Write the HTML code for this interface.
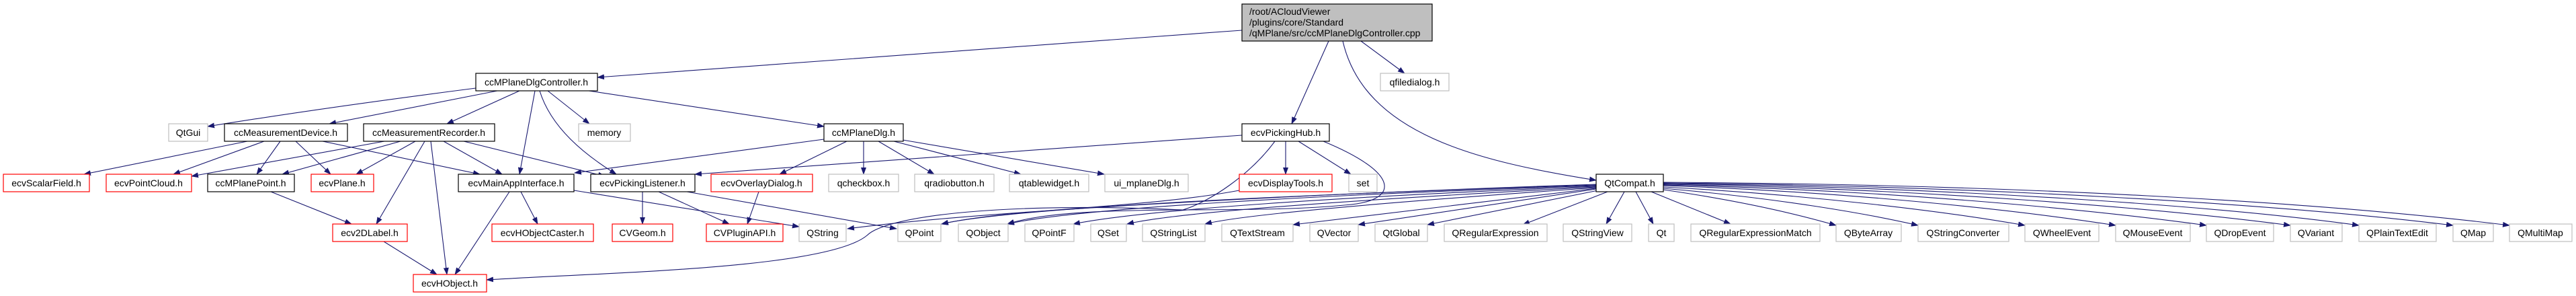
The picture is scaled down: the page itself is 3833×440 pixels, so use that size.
<!DOCTYPE html>
<html><head><meta charset="utf-8"><style>
html,body{margin:0;padding:0;background:#fff;}
svg{display:block}
text{font-family:"Liberation Sans",sans-serif;font-size:14px;fill:#000;text-anchor:middle}
.n{fill:#fff;stroke:#000;stroke-width:1.2}
.r{fill:#fff;stroke:#ff0000;stroke-width:1.2}
.g{fill:#fff;stroke:#bfbfbf;stroke-width:1.2}
.e{fill:none;stroke:#191970;stroke-width:1.1}
</style></head><body>
<svg width="3833" height="440" viewBox="0 0 3833 440" xmlns="http://www.w3.org/2000/svg">
<defs><marker id="a" markerUnits="userSpaceOnUse" markerWidth="11" markerHeight="8" refX="10" refY="4" orient="auto"><path d="M0,0 L11,4 L0,8 z" fill="#191970"/></marker></defs>
<g marker-end="url(#a)">
<!-- top cpp -->
<path class="e" d="M1848,45 L889,115"/>
<path class="e" d="M1977,61 L1922,184"/>
<path class="e" d="M2025,61 L2090,109"/>
<path class="e" d="M1998,61 C2030,200 2200,240 2375,268"/>
<!-- controller -->
<path class="e" d="M708,131 C560,150 420,170 309,188"/>
<path class="e" d="M740,135 L490,184"/>
<path class="e" d="M773,135 L665,184"/>
<path class="e" d="M796,135 L773,259"/>
<path class="e" d="M803,135 C820,190 870,230 917,259"/>
<path class="e" d="M815,135 L877,184"/>
<path class="e" d="M876,135 L1226,188"/>
<!-- measurement device -->
<path class="e" d="M368,210 L125,259"/>
<path class="e" d="M393,210 L258,259"/>
<path class="e" d="M417,210 L382,259"/>
<path class="e" d="M440,210 L492,259"/>
<path class="e" d="M480,210 L714,259"/>
<!-- recorder -->
<path class="e" d="M572,210 L285,262"/>
<path class="e" d="M596,210 L420,259"/>
<path class="e" d="M618,210 L530,259"/>
<path class="e" d="M632,210 L560,333"/>
<path class="e" d="M641,210 L665,408"/>
<path class="e" d="M660,210 L747,259"/>
<path class="e" d="M690,210 L900,262"/>
<path class="e" d="M403,285 L523,333"/>
<path class="e" d="M571,359 L650,408"/>
<!-- main app interface -->
<path class="e" d="M758,285 L677,408"/>
<path class="e" d="M775,285 L800,333"/>
<path class="e" d="M854,283 L1189,337"/>
<!-- picking listener -->
<path class="e" d="M956,285 L956,333"/>
<path class="e" d="M980,285 L1085,333"/>
<path class="e" d="M1022,285 L1334,340"/>
<path class="e" d="M1129,285 L1112,333"/>
<!-- ccMPlaneDlg -->
<path class="e" d="M1226,207 L855,257"/>
<path class="e" d="M1260,210 L1160,259"/>
<path class="e" d="M1285,210 L1285,259"/>
<path class="e" d="M1307,210 L1390,259"/>
<path class="e" d="M1330,210 L1519,259"/>
<path class="e" d="M1343,208 L1643,259"/>
<!-- picking hub -->
<path class="e" d="M1848,201 L1034,259"/>
<path class="e" d="M1913,210 L1913,259"/>
<path class="e" d="M1932,210 L2010,259"/>
<path class="e" d="M1897,210 C1860,260 1800,300 1760,312 C1500,300 1320,320 1290,350 C1230,400 900,405 724,416"/>
<path class="e" d="M1969,210 C2090,260 2080,300 2000,305 C1850,320 1600,300 1499,333"/>
<path class="e" d="M1844,283 C1700,310 1500,310 1401,333"/>
<!-- QtCompat left -->
<path class="e" d="M2375,274 C1900,290 1450,315 1261,340"/>
<path class="e" d="M2375,275 C1900,290 1500,310 1401,333"/>
<path class="e" d="M2375,276 C1950,290 1600,310 1499,333"/>
<path class="e" d="M2375,277 C2000,292 1700,312 1597,333"/>
<path class="e" d="M2375,278 C2050,295 1750,315 1677,333"/>
<path class="e" d="M2375,279 C2100,298 1850,318 1793,333"/>
<path class="e" d="M2375,280 L1924,334"/>
<path class="e" d="M2375,281 L2021,334"/>
<path class="e" d="M2378,283 L2124,334"/>
<path class="e" d="M2392,285 L2266,334"/>
<path class="e" d="M2417,285 L2390,333"/>
<path class="e" d="M2434,285 L2460,333"/>
<path class="e" d="M2457,285 L2575,333"/>
<!-- QtCompat right -->
<path class="e" d="M2475,282 C2600,300 2680,320 2732,335"/>
<path class="e" d="M2475,280 C2650,295 2780,318 2854,335"/>
<path class="e" d="M2475,278 C2700,290 2900,315 3013,335"/>
<path class="e" d="M2475,276 C2750,285 3000,312 3148,335"/>
<path class="e" d="M2475,275 C2800,282 3100,310 3283,335"/>
<path class="e" d="M2475,274 C2850,280 3200,308 3408,335"/>
<path class="e" d="M2475,273 C2900,278 3300,306 3510,335"/>
<path class="e" d="M2475,272 C2950,276 3400,304 3650,335"/>
<path class="e" d="M2475,271 C3000,274 3450,300 3734,335"/>
</g>
<!-- nodes -->
<rect x="1848" y="6" width="283" height="55" fill="#bfbfbf" stroke="#000" stroke-width="1.2"/>
<text x="1859" y="22" style="text-anchor:start">/root/ACloudViewer</text>
<text x="1859" y="38" style="text-anchor:start">/plugins/core/Standard</text>
<text x="1859" y="54" style="text-anchor:start">/qMPlane/src/ccMPlaneDlgController.cpp</text>

<rect class="n" x="708" y="109" width="181" height="26"/><text x="798" y="127">ccMPlaneDlgController.h</text>
<rect class="g" x="2054" y="109" width="102" height="26"/><text x="2105" y="127">qfiledialog.h</text>

<rect class="g" x="251" y="184" width="58" height="26"/><text x="280" y="202">QtGui</text>
<rect class="n" x="334" y="184" width="183" height="26"/><text x="425" y="202">ccMeasurementDevice.h</text>
<rect class="n" x="541" y="184" width="195" height="26"/><text x="638" y="202">ccMeasurementRecorder.h</text>
<rect class="g" x="861" y="184" width="77" height="26"/><text x="899" y="202">memory</text>
<rect class="n" x="1226" y="184" width="118" height="26"/><text x="1285" y="202">ccMPlaneDlg.h</text>
<rect class="n" x="1848" y="184" width="130" height="26"/><text x="1913" y="202">ecvPickingHub.h</text>

<rect class="r" x="5" y="259" width="128" height="26"/><text x="69" y="277">ecvScalarField.h</text>
<rect class="r" x="158" y="259" width="127" height="26"/><text x="221" y="277">ecvPointCloud.h</text>
<rect class="n" x="309" y="259" width="129" height="26"/><text x="373" y="277">ccMPlanePoint.h</text>
<rect class="r" x="463" y="259" width="93" height="26"/><text x="509" y="277">ecvPlane.h</text>
<rect class="n" x="682" y="259" width="172" height="26"/><text x="768" y="277">ecvMainAppInterface.h</text>
<rect class="n" x="879" y="259" width="155" height="26"/><text x="956" y="277">ecvPickingListener.h</text>
<rect class="r" x="1058" y="259" width="151" height="26"/><text x="1133" y="277">ecvOverlayDialog.h</text>
<rect class="g" x="1233" y="259" width="104" height="26"/><text x="1285" y="277">qcheckbox.h</text>
<rect class="g" x="1361" y="259" width="118" height="26"/><text x="1420" y="277">qradiobutton.h</text>
<rect class="g" x="1502" y="259" width="118" height="26"/><text x="1561" y="277">qtablewidget.h</text>
<rect class="g" x="1644" y="259" width="124" height="26"/><text x="1706" y="277">ui_mplaneDlg.h</text>
<rect class="r" x="1844" y="259" width="138" height="26"/><text x="1913" y="277">ecvDisplayTools.h</text>
<rect class="g" x="2007" y="259" width="42" height="26"/><text x="2028" y="277">set</text>
<rect class="n" x="2375" y="259" width="100" height="26"/><text x="2425" y="277">QtCompat.h</text>

<rect class="r" x="495" y="333" width="111" height="26"/><text x="550" y="351">ecv2DLabel.h</text>
<rect class="r" x="732" y="333" width="151" height="26"/><text x="807" y="351">ecvHObjectCaster.h</text>
<rect class="r" x="911" y="333" width="90" height="26"/><text x="956" y="351">CVGeom.h</text>
<rect class="r" x="1051" y="333" width="114" height="26"/><text x="1108" y="351">CVPluginAPI.h</text>
<rect class="g" x="1189" y="333" width="70" height="26"/><text x="1224" y="351">QString</text>
<rect class="g" x="1336" y="333" width="64" height="26"/><text x="1368" y="351">QPoint</text>
<rect class="g" x="1426" y="333" width="74" height="26"/><text x="1463" y="351">QObject</text>
<rect class="g" x="1525" y="333" width="73" height="26"/><text x="1561" y="351">QPointF</text>
<rect class="g" x="1623" y="333" width="53" height="26"/><text x="1649" y="351">QSet</text>
<rect class="g" x="1700" y="333" width="93" height="26"/><text x="1746" y="351">QStringList</text>
<rect class="g" x="1818" y="333" width="106" height="26"/><text x="1871" y="351">QTextStream</text>
<rect class="g" x="1949" y="333" width="72" height="26"/><text x="1985" y="351">QVector</text>
<rect class="g" x="2046" y="333" width="78" height="26"/><text x="2085" y="351">QtGlobal</text>
<rect class="g" x="2149" y="333" width="153" height="26"/><text x="2225" y="351">QRegularExpression</text>
<rect class="g" x="2326" y="333" width="102" height="26"/><text x="2377" y="351">QStringView</text>
<rect class="g" x="2453" y="333" width="38" height="26"/><text x="2472" y="351">Qt</text>
<rect class="g" x="2516" y="333" width="192" height="26"/><text x="2612" y="351">QRegularExpressionMatch</text>
<rect class="g" x="2732" y="333" width="97" height="26"/><text x="2780" y="351">QByteArray</text>
<rect class="g" x="2854" y="333" width="135" height="26"/><text x="2921" y="351">QStringConverter</text>
<rect class="g" x="3013" y="333" width="110" height="26"/><text x="3068" y="351">QWheelEvent</text>
<rect class="g" x="3148" y="333" width="111" height="26"/><text x="3203" y="351">QMouseEvent</text>
<rect class="g" x="3283" y="333" width="100" height="26"/><text x="3333" y="351">QDropEvent</text>
<rect class="g" x="3408" y="333" width="77" height="26"/><text x="3446" y="351">QVariant</text>
<rect class="g" x="3510" y="333" width="115" height="26"/><text x="3567" y="351">QPlainTextEdit</text>
<rect class="g" x="3650" y="333" width="60" height="26"/><text x="3680" y="351">QMap</text>
<rect class="g" x="3734" y="333" width="93" height="26"/><text x="3780" y="351">QMultiMap</text>

<rect class="r" x="615" y="408" width="109" height="26"/><text x="669" y="426">ecvHObject.h</text>
</svg>
</body></html>
